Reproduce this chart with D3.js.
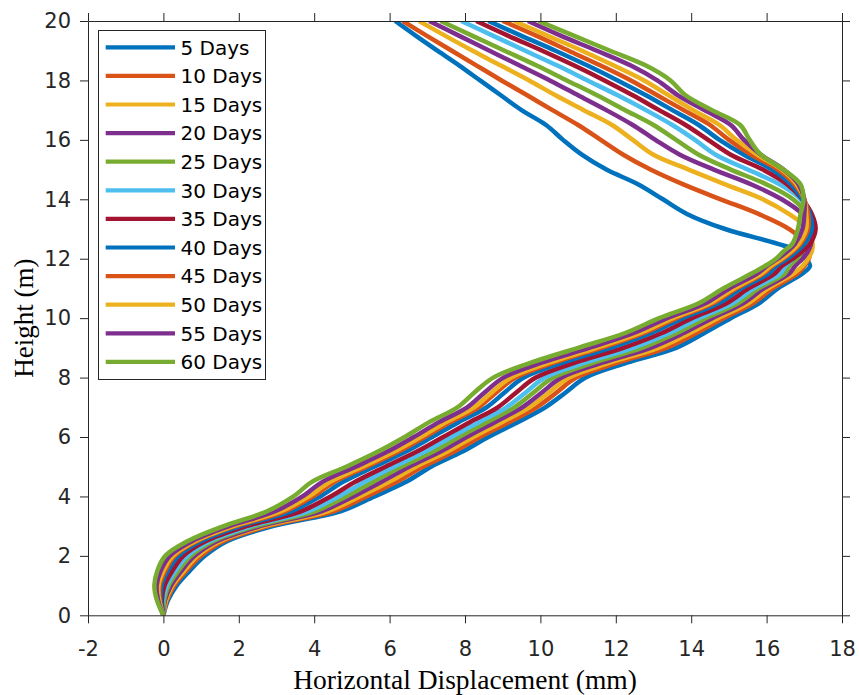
<!DOCTYPE html>
<html>
<head>
<meta charset="utf-8">
<script src="https://cdn.jsdelivr.net/npm/d3@7"></script>
<style>
  body { margin: 0; background: #fff; }
  svg { display: block; }
</style>
</head>
<body>
<svg id="chart" width="859" height="695"></svg>
<script>
// Heights (m) shared by every curve.
const heights = [0, 0.5, 1, 1.5, 2, 2.5, 3, 3.5, 4, 4.5, 5, 5.5, 6, 6.5, 7, 7.5, 8, 8.5, 9, 9.5,
    10, 10.5, 11, 11.5, 11.75, 12, 12.25, 12.5, 13, 13.5, 14, 14.5, 15, 15.5, 16, 16.5, 17, 17.5,
    18, 18.5, 19, 19.5, 20];

// Horizontal displacement (mm) of each curve at those heights.
const days5  = [0, 0.12, 0.35, 0.7, 1.1, 1.7, 2.9, 4.7, 5.6, 6.45, 7.1, 7.92, 8.62, 9.4, 10.13, 10.67, 11.2, 12.3, 13.6, 14.35, 15.05, 15.8, 16.3, 16.95,
    17.15, 17.05, 16.85, 16.3, 14.9, 13.9, 13.25, 12.6, 11.75, 11.1, 10.6, 10.15, 9.5, 8.95, 8.4, 7.85, 7.27, 6.7, 6.15];
const days10 = [0, 0.09, 0.29, 0.61, 1.0, 1.6, 2.77, 4.51, 5.39, 6.2, 6.88, 7.7, 8.4, 9.17, 9.9, 10.43, 10.95, 12.05, 13.34, 14.14, 14.86, 15.64, 16.16, 16.82,
    17.0, 17.12, 17.15, 17.05, 16.6, 15.8, 14.78, 13.79, 12.92, 12.2, 11.6, 11.0, 10.32, 9.65, 8.97, 8.31, 7.65, 6.99, 6.35];
const days15 = [0, 0.07, 0.24, 0.55, 0.91, 1.51, 2.67, 4.35, 5.21, 6.0, 6.7, 7.52, 8.22, 8.98, 9.71, 10.23, 10.76, 11.84, 13.13, 13.97, 14.71, 15.51, 16.04, 16.71,
    16.95, 17.1, 17.2, 17.22, 17.1, 16.6, 15.9, 14.9, 13.93, 13.0, 12.45, 11.9, 11.15, 10.4, 9.7, 8.95, 8.2, 7.48, 6.78];
const days20 = [0, 0.04, 0.2, 0.48, 0.83, 1.43, 2.56, 4.19, 5.04, 5.8, 6.52, 7.34, 8.04, 8.79, 9.52, 10.04, 10.56, 11.64, 12.92, 13.8, 14.56, 15.38, 15.92, 16.6,
    16.75, 16.95, 17.1, 17.18, 17.2, 16.95, 16.4, 15.6, 14.6, 13.7, 13.05, 12.45, 11.75, 11.0, 10.25, 9.45, 8.65, 7.85, 7.05];
const days25 = [0, 0.02, 0.14, 0.4, 0.73, 1.33, 2.45, 4.02, 4.85, 5.58, 6.31, 7.14, 7.84, 8.58, 9.31, 9.82, 10.34, 11.41, 12.69, 13.62, 14.39, 15.24, 15.79, 16.48,
    16.6, 16.8, 16.95, 17.05, 17.12, 17.05, 16.7, 16.0, 15.05, 14.2, 13.6, 13.0, 12.25, 11.5, 10.7, 9.9, 9.05, 8.2, 7.35];
const days30 = [0, -0.01, 0.09, 0.32, 0.64, 1.24, 2.33, 3.84, 4.65, 5.35, 6.11, 6.93, 7.64, 8.37, 9.1, 9.61, 10.12, 11.18, 12.46, 13.43, 14.21, 15.1, 15.66, 16.36,
    16.5, 16.7, 16.85, 16.98, 17.1, 17.1, 16.9, 16.35, 15.5, 14.65, 14.1, 13.5, 12.8, 12.05, 11.25, 10.45, 9.6, 8.75, 7.9];
const days35 = [0, -0.04, 0.03, 0.24, 0.53, 1.13, 2.2, 3.65, 4.44, 5.1, 5.89, 6.71, 7.42, 8.13, 8.87, 9.36, 9.88, 10.92, 12.2, 13.22, 14.02, 14.94, 15.52, 16.22,
    16.4, 16.7, 16.95, 17.15, 17.3, 17.2, 16.95, 16.55, 15.9, 15.05, 14.45, 13.85, 13.15, 12.45, 11.7, 10.9, 10.05, 9.15, 8.3];
const days40 = [0, -0.07, -0.05, 0.12, 0.4, 1.0, 2.03, 3.39, 4.16, 4.78, 5.59, 6.42, 7.13, 7.83, 8.57, 9.05, 9.56, 10.59, 11.86, 12.94, 13.78, 14.73, 15.33, 16.05,
    16.25, 16.55, 16.8, 17.0, 17.2, 17.15, 16.95, 16.65, 16.15, 15.4, 14.75, 14.2, 13.5, 12.8, 12.05, 11.25, 10.4, 9.5, 8.62];
const days45 = [0, -0.1, -0.1, 0.05, 0.3, 0.9, 1.91, 3.22, 3.97, 4.55, 5.39, 6.22, 6.93, 7.61, 8.36, 8.83, 9.34, 10.36, 11.62, 12.75, 13.61, 14.58, 15.2, 15.92,
    16.15, 16.45, 16.7, 16.9, 17.1, 17.1, 17.0, 16.75, 16.3, 15.6, 15.0, 14.5, 13.8, 13.1, 12.4, 11.6, 10.75, 9.9, 9.0];
const days50 = [0, -0.11, -0.13, 0.0, 0.25, 0.85, 1.85, 3.12, 3.86, 4.43, 5.28, 6.11, 6.82, 7.5, 8.24, 8.71, 9.22, 10.23, 11.49, 12.65, 13.51, 14.5, 15.13, 15.86,
    16.1, 16.4, 16.65, 16.85, 17.05, 17.05, 17.0, 16.8, 16.4, 15.75, 15.2, 14.75, 14.05, 13.4, 12.75, 11.95, 11.1, 10.2, 9.3];
const days55 = [0, -0.14, -0.18, -0.07, 0.17, 0.77, 1.74, 2.96, 3.69, 4.23, 5.1, 5.93, 6.64, 7.31, 8.06, 8.52, 9.02, 10.03, 11.29, 12.48, 13.36, 14.38, 15.01, 15.75,
    16.0, 16.3, 16.55, 16.75, 16.95, 17.0, 17.0, 16.85, 16.45, 15.85, 15.4, 15.05, 14.35, 13.65, 13.1, 12.4, 11.5, 10.55, 9.67];
const days60 = [0, -0.17, -0.24, -0.16, 0.05, 0.65, 1.6, 2.75, 3.45, 3.95, 4.85, 5.68, 6.4, 7.05, 7.8, 8.25, 8.75, 9.75, 11.0, 12.25, 13.15, 14.2, 14.85, 15.6,
    15.95, 16.25, 16.45, 16.68, 16.83, 16.9, 16.98, 16.9, 16.45, 15.85, 15.55, 15.3, 14.55, 13.85, 13.45, 12.8, 11.85, 10.9, 9.95];

const seriesNames = ["5 Days", "10 Days", "15 Days", "20 Days", "25 Days", "30 Days",
    "35 Days", "40 Days", "45 Days", "50 Days", "55 Days", "60 Days"];
const seriesValues = [days5, days10, days15, days20, days25, days30,
    days35, days40, days45, days50, days55, days60];
// MATLAB default line colours, cycling after seven.
const lineColors = ["#0072BD", "#D95319", "#EDB120", "#7E2F8E", "#77AC30", "#4DBEEE", "#A2142F"];

const xTickValues = [-2, 0, 2, 4, 6, 8, 10, 12, 14, 16, 18];
const yTickValues = [0, 2, 4, 6, 8, 10, 12, 14, 16, 18, 20];

const svg = d3.select("#chart");
const plotLeft = 88, plotRight = 842, plotTop = 21, plotBottom = 615.3;
const axisColor = "#262626";

const x = d3.scaleLinear().domain([-2, 18]).range([plotLeft, plotRight]);
const y = d3.scaleLinear().domain([0, 20]).range([plotBottom, plotTop]);

// Clip the curves to the plot box.
svg.append("defs").append("clipPath").attr("id", "plotClip")
    .append("rect")
    .attr("x", plotLeft).attr("y", plotTop)
    .attr("width", plotRight - plotLeft).attr("height", plotBottom - plotTop);

// Draw the curves, 5 Days first so 60 Days ends up on top.
const line = d3.line()
    .x(d => x(d[0]))
    .y(d => y(d[1]))
    .curve(d3.curveCatmullRom.alpha(0.5));

const curves = svg.append("g").attr("clip-path", "url(#plotClip)");
seriesValues.forEach((vals, i) => {
    curves.append("path")
        .datum(vals.map((v, k) => [v, heights[k]]))
        .attr("fill", "none")
        .attr("stroke", lineColors[i % lineColors.length])
        .attr("stroke-width", 4.5)
        .attr("stroke-linejoin", "round")
        .attr("d", line);
});

// Axes on all four sides, ticks pointing out, labels only bottom and left.
// Plain hyphen for negatives, as in the original figure.
const plainNumber = d => String(d);

function styleAxis (g) {
    g.selectAll("path, line").attr("stroke", axisColor).attr("stroke-width", 1);
    g.selectAll("text").attr("fill", axisColor)
        .attr("font-family", "DejaVu Sans, sans-serif").attr("font-size", "21px");
}

svg.append("g")
    .attr("transform", `translate(0,${plotBottom})`)
    .call(d3.axisBottom(x).tickValues(xTickValues).tickFormat(plainNumber)
        .tickSize(8).tickSizeOuter(0).tickPadding(18))
    .call(styleAxis);
svg.append("g")
    .attr("transform", `translate(0,${plotTop})`)
    .call(d3.axisTop(x).tickValues(xTickValues).tickSize(8).tickSizeOuter(0).tickFormat(""))
    .call(styleAxis);
svg.append("g")
    .attr("transform", `translate(${plotLeft},0)`)
    .call(d3.axisLeft(y).tickValues(yTickValues).tickFormat(plainNumber)
        .tickSize(8).tickSizeOuter(0).tickPadding(9))
    .call(styleAxis);
svg.append("g")
    .attr("transform", `translate(${plotRight},0)`)
    .call(d3.axisRight(y).tickValues(yTickValues).tickSize(8).tickSizeOuter(0).tickFormat(""))
    .call(styleAxis);

// Axis titles.
svg.append("text")
    .attr("x", (plotLeft + plotRight) / 2).attr("y", 689)
    .attr("text-anchor", "middle")
    .attr("font-family", "Liberation Serif, Times New Roman, serif")
    .attr("font-size", "27.5px").attr("fill", "#000")
    .text("Horizontal Displacement (mm)");
svg.append("text")
    .attr("transform", `translate(33,${(plotTop + plotBottom) / 2}) rotate(-90)`)
    .attr("text-anchor", "middle")
    .attr("font-family", "Liberation Serif, Times New Roman, serif")
    .attr("font-size", "27px").attr("fill", "#000")
    .text("Height (m)");

// Legend box in the upper left corner.
const legend = svg.append("g");
legend.append("rect")
    .attr("x", 98.5).attr("y", 30.5)
    .attr("width", 167).attr("height", 349)
    .attr("fill", "#fff").attr("stroke", axisColor).attr("stroke-width", 1);
seriesNames.forEach((name, i) => {
    let rowY = 47.3 + i * 28.6;
    legend.append("line")
        .attr("x1", 105.7).attr("x2", 175)
        .attr("y1", rowY).attr("y2", rowY)
        .attr("stroke", lineColors[i % lineColors.length])
        .attr("stroke-width", 4.2);
    legend.append("text")
        .attr("x", 180.5).attr("y", rowY + 7.3)
        .attr("font-family", "DejaVu Sans, sans-serif")
        .attr("font-size", "20px").attr("fill", "#000")
        .text(name);
});
</script>
</body>
</html>
